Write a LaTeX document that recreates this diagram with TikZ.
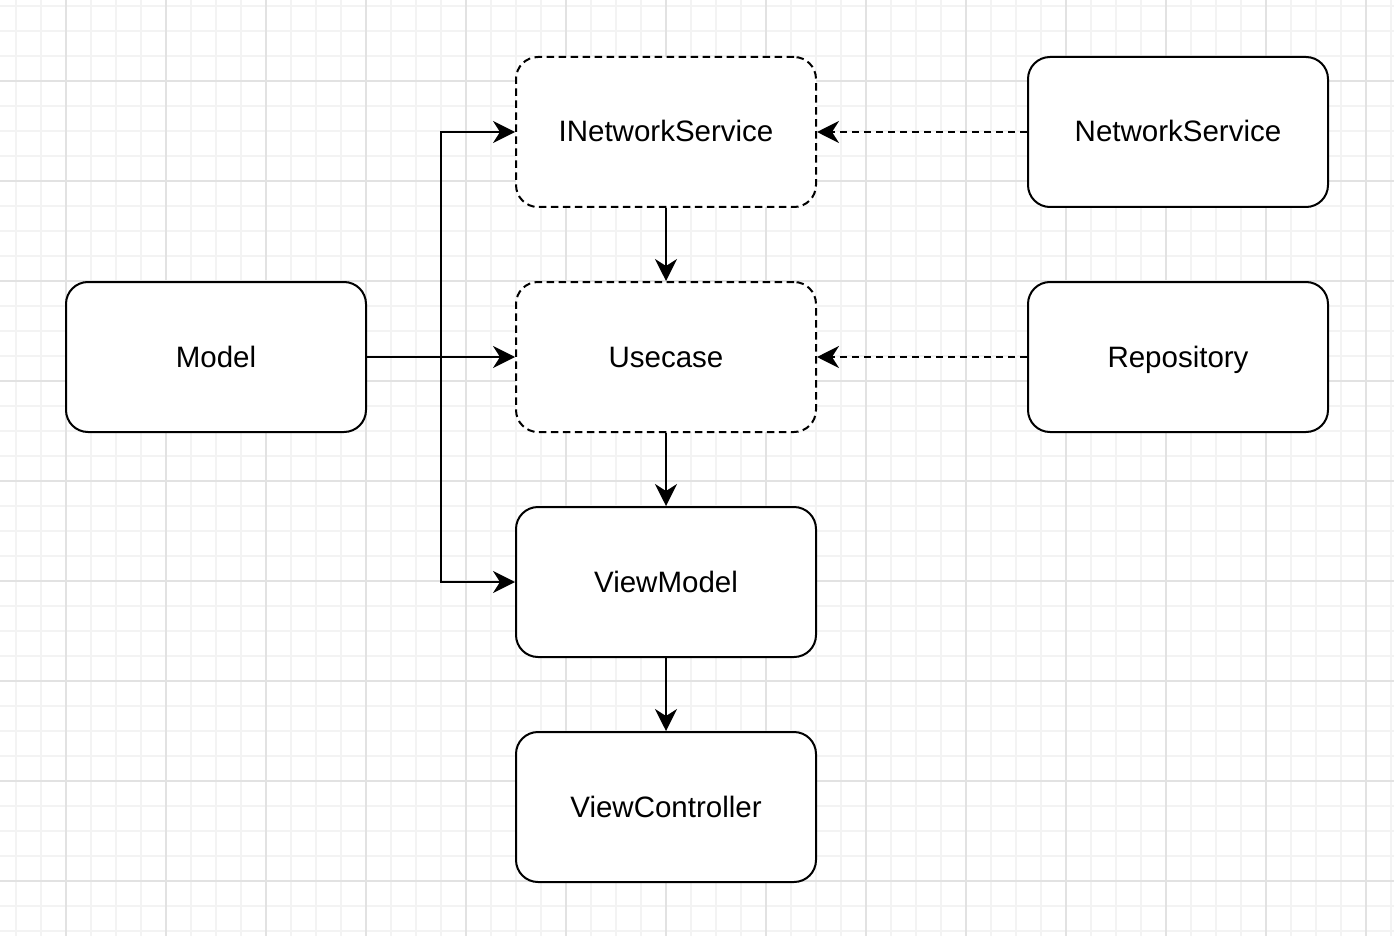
\documentclass[tikz,border=0pt]{standalone}
\usepackage{fontspec}
\setmainfont{Liberation Sans}
\usetikzlibrary{arrows.meta}
\definecolor{gridminor}{HTML}{F3F3F3}
\definecolor{gridmajor}{HTML}{E2E2E2}
\tikzset{
  box/.style={draw=black, line width=2pt, fill=white, rounded corners=22pt,
    minimum width=300pt, minimum height=150pt, inner sep=0pt,
    text height=26pt, text depth=6pt,
    font=\fontsize{29.5}{35}\selectfont},
  ifacebox/.style={box, dash pattern=on 7.5pt off 4.5pt},
  conn/.style={line width=2pt, -{Stealth[length=22pt, width=22pt, inset=7pt]}},
  dconn/.style={conn, dash pattern=on 7.5pt off 4.5pt}
}
\begin{document}
\begin{tikzpicture}[x=1pt,y=-1pt]
\useasboundingbox (0,0) rectangle (1394,936);
\fill[white] (0,0) rectangle (1394,936);
% grid
\foreach \x in {16,41,...,1391} \draw[gridminor, line width=2.5pt] (\x,0) -- (\x,936);
\foreach \y in {6,31,...,931} \draw[gridminor, line width=2.5pt] (0,\y) -- (1394,\y);
\foreach \x in {66,166,...,1366} \draw[gridmajor, line width=2pt] (\x,0) -- (\x,936);
\foreach \y in {81,181,...,881} \draw[gridmajor, line width=2pt] (0,\y) -- (1394,\y);
% nodes
\node[ifacebox] (ins) at (666,132) {INetworkService};
\node[box] (ns) at (1178,132) {NetworkService};
\node[box] (model) at (216,357) {Model};
\node[ifacebox] (uc) at (666,357) {Usecase};
\node[box] (repo) at (1178,357) {Repository};
\node[box] (vm) at (666,582) {ViewModel};
\node[box] (vc) at (666,807) {ViewController};
\coordinate (split) at (441,357);
% connectors
\draw[conn] (model.east) -- (uc.west);
\draw[conn] (model.east) -- (split) |- (ins.west);
\draw[conn] (model.east) -- (split) |- (vm.west);
\draw[conn] (ins.south) -- (uc.north);
\draw[conn] (uc.south) -- (vm.north);
\draw[conn] (vm.south) -- (vc.north);
\draw[dconn] (ns.west) -- (ins.east);
\draw[dconn] (repo.west) -- (uc.east);
\end{tikzpicture}
\end{document}
